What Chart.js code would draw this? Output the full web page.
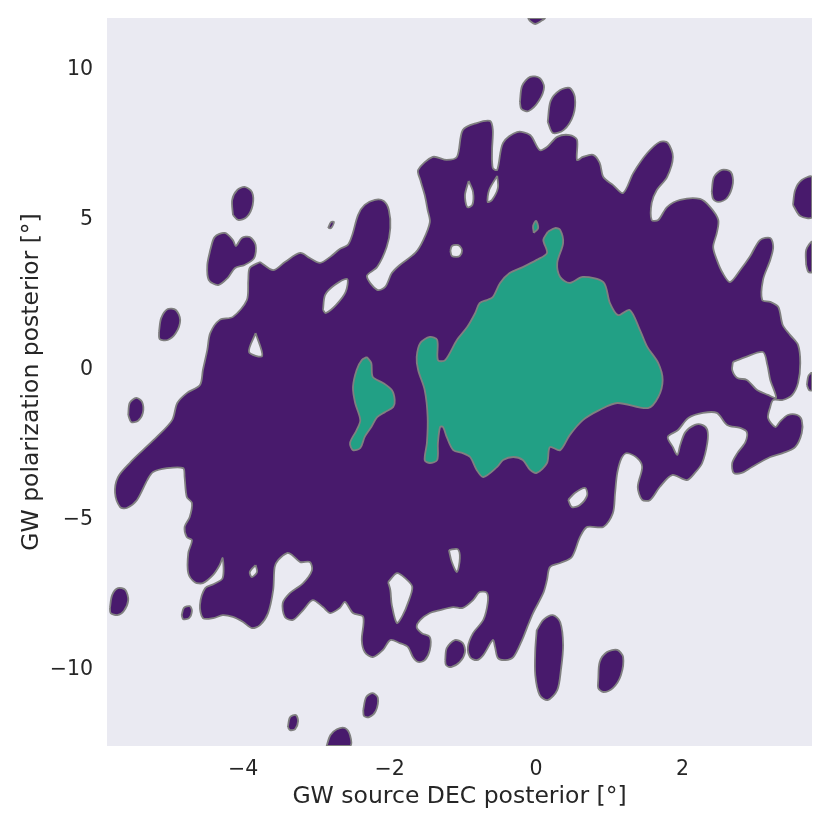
<!DOCTYPE html>
<html>
<head>
<meta charset="utf-8">
<script src="https://cdn.jsdelivr.net/npm/chart.js@4/dist/chart.umd.min.js"></script>
<style>
  html, body { margin: 0; padding: 0; background: #fff; }
  #wrap { width: 830px; height: 830px; }
</style>
</head>
<body>
<div id="wrap"><canvas id="contourChart" width="830" height="830"></canvas></div>
<script>
// axis ticks and limits
const xTicks = [-4, -2, 0, 2];
const yTicks = [-10, -5, 0, 5, 10];
const xRange = [-5.86, 3.77];
const yRange = [-12.53, 11.73];

// outer contour level (purple), main region
const mainBody = [
  [-3.77,3.60],[-3.91,3.40],[-3.93,3.00],[-3.95,2.33],[-4.14,1.77],[-4.32,1.67],[-4.45,1.23],[-4.49,0.67],
  [-4.55,0],[-4.59,-0.5],[-4.77,-0.77],[-4.90,-1.10],[-4.97,-1.67],[-5.18,-2.23],[-5.37,-2.67],[-5.55,-3.10],
  [-5.71,-3.57],[-5.75,-4.10],[-5.68,-4.57],[-5.59,-4.60],[-5.45,-4.33],[-5.31,-3.67],[-5.23,-3.40],[-5.04,-3.27],
  [-4.82,-3.27],[-4.80,-3.57],[-4.77,-4.23],[-4.70,-4.43],[-4.73,-4.90],[-4.80,-5.23],[-4.77,-5.57],[-4.70,-5.67],
  [-4.75,-6.10],[-4.75,-6.77],[-4.66,-7.07],[-4.55,-7.10],[-4.41,-6.83],[-4.32,-6.50],[-4.28,-6.27],[-4.28,-6.93],
  [-4.40,-7.13],[-4.52,-7.27],[-4.59,-7.83],[-4.55,-8.27],[-4.41,-8.27],[-4.28,-8.17],[-4.14,-8.23],[-4.00,-8.40],
  [-3.88,-8.60],[-3.77,-8.50],[-3.66,-8.10],[-3.59,-7.33],[-3.57,-6.57],[-3.52,-6.33],[-3.40,-6.10],[-3.33,-6.17],
  [-3.22,-6.40],[-3.09,-6.40],[-3.06,-6.67],[-3.18,-7.10],[-3.36,-7.43],[-3.46,-7.77],[-3.43,-8.23],[-3.32,-8.33],
  [-3.18,-8.00],[-3.05,-7.67],[-2.91,-7.90],[-2.81,-8.10],[-2.68,-7.93],[-2.61,-7.73],[-2.50,-8.10],[-2.36,-8.23],
  [-2.38,-9.00],[-2.34,-9.40],[-2.23,-9.57],[-2.09,-9.33],[-1.99,-9.00],[-1.86,-9.10],[-1.75,-9.23],[-1.68,-9.57],
  [-1.61,-9.73],[-1.52,-9.67],[-1.45,-9.33],[-1.45,-8.90],[-1.56,-8.77],[-1.63,-8.57],[-1.58,-8.33],[-1.45,-8.10],
  [-1.31,-8.00],[-1.13,-7.90],[-1.00,-7.93],[-0.86,-7.67],[-0.77,-7.40],[-0.67,-7.43],[-0.66,-7.77],[-0.72,-8.33],
  [-0.86,-8.77],[-0.93,-9.23],[-0.90,-9.57],[-0.81,-9.67],[-0.72,-9.50],[-0.59,-9.00],[-0.56,-9.23],[-0.52,-9.60],
  [-0.42,-9.67],[-0.31,-9.57],[-0.19,-9.00],[-0.12,-8.57],[-0.04,-8.10],[0.10,-7.43],[0.15,-7.00],[0.19,-6.57],
  [0.33,-6.43],[0.49,-6.23],[0.60,-5.57],[0.70,-5.23],[0.92,-5.23],[1.05,-4.77],[1.08,-4.10],[1.11,-3.43],
  [1.17,-2.93],[1.24,-2.77],[1.38,-2.93],[1.45,-3.23],[1.39,-3.90],[1.45,-4.33],[1.56,-4.33],[1.69,-3.90],
  [1.86,-3.50],[2.06,-3.67],[2.17,-3.43],[2.27,-3.10],[2.34,-2.43],[2.34,-2.00],[2.27,-1.83],[2.17,-1.83],
  [2.04,-2.07],[1.97,-2.50],[1.93,-2.83],[1.87,-2.57],[1.80,-2.23],[1.94,-2.00],[2.08,-1.60],[2.28,-1.43],
  [2.47,-1.43],[2.61,-1.83],[2.79,-1.93],[2.88,-2.07],[2.86,-2.40],[2.75,-2.77],[2.68,-3.10],[2.70,-3.43],
  [2.81,-3.43],[2.95,-3.23],[3.20,-2.90],[3.37,-2.77],[3.54,-2.57],[3.63,-2.10],[3.63,-1.67],[3.57,-1.50],
  [3.44,-1.50],[3.33,-1.73],[3.27,-1.90],[3.17,-1.60],[3.20,-1.23],[3.24,-1.00],[3.37,-1.00],[3.50,-0.83],
  [3.58,-0.43],[3.61,0.23],[3.58,0.83],[3.47,1.17],[3.37,1.50],[3.31,2.10],[3.20,2.27],[3.09,2.33],
  [3.10,3.00],[3.20,3.67],[3.24,4.10],[3.20,4.40],[3.06,4.33],[2.92,3.77],[2.79,3.33],[2.65,2.93],
  [2.55,3.23],[2.47,3.67],[2.42,4.10],[2.47,4.57],[2.49,5.00],[2.38,5.43],[2.24,5.70],[1.97,5.67],
  [1.79,5.43],[1.67,5.00],[1.58,5.00],[1.58,5.57],[1.65,6.00],[1.79,6.43],[1.87,7.10],[1.80,7.57],
  [1.69,7.60],[1.52,7.23],[1.33,6.57],[1.19,5.90],[1.05,6.17],[0.92,6.43],[0.87,6.90],[0.78,7.17],
  [0.64,7.10],[0.56,7.00],[0.56,7.67],[0.46,7.83],[0.29,7.77],[0.15,7.43],[0.05,7.33],[-0.08,7.83],
  [-0.26,7.93],[-0.45,7.57],[-0.53,6.67],[-0.59,6.73],[-0.60,7.33],[-0.59,8.00],[-0.63,8.30],[-0.81,8.23],
  [-1.00,8.00],[-1.08,7.10],[-1.22,7.00],[-1.41,7.10],[-1.61,6.67],[-1.58,6.33],[-1.52,5.83],[-1.48,5.33],
  [-1.45,4.93],[-1.54,4.33],[-1.65,3.90],[-1.86,3.50],[-1.97,3.23],[-2.06,2.77],[-2.17,2.67],[-2.31,3.13],
  [-2.17,3.43],[-2.04,4.10],[-1.99,4.73],[-2.01,5.33],[-2.08,5.63],[-2.20,5.67],[-2.34,5.50],[-2.43,5.17],
  [-2.51,4.50],[-2.57,4.17],[-2.68,4.03],[-2.81,3.77],[-2.95,3.57],[-3.09,3.73],[-3.22,3.90],[-3.43,3.60],
  [-3.59,3.33]
];

// outer contour level, separate islands
const islands = [
  [[-4.14,5.17],[-4.15,5.67],[-4.08,6.00],[-3.98,6.10],[-3.88,5.93],[-3.87,5.50],[-3.95,5.10],[-4.07,5.00]],
  [[-4.45,4.00],[-4.39,4.43],[-4.25,4.57],[-4.14,4.33],[-4.10,4.13],[-4.02,4.40],[-3.91,4.43],[-3.83,4.17],
   [-3.85,3.73],[-3.98,3.50],[-4.11,3.40],[-4.21,3.07],[-4.34,2.83],[-4.47,3.00],[-4.49,3.50]],
  [[-5.15,1.27],[-5.12,1.73],[-5.03,2.03],[-4.92,2.00],[-4.86,1.67],[-4.92,1.23],[-5.03,1.00],[-5.14,1.03]],
  [[-5.57,-1.50],[-5.55,-1.10],[-5.46,-0.93],[-5.38,-1.07],[-5.37,-1.43],[-5.44,-1.70],[-5.53,-1.73]],
  [[-5.82,-7.93],[-5.79,-7.50],[-5.71,-7.27],[-5.61,-7.33],[-5.57,-7.67],[-5.63,-8.03],[-5.72,-8.17],[-5.81,-8.10]],
  [[-4.84,-8.17],[-4.81,-7.93],[-4.73,-7.87],[-4.70,-8.03],[-4.74,-8.27],[-4.82,-8.30]],
  [[-3.39,-11.90],[-3.36,-11.57],[-3.28,-11.50],[-3.25,-11.70],[-3.29,-11.97],[-3.36,-12.00]],
  [[-2.86,-12.53],[-2.81,-12.17],[-2.72,-11.97],[-2.61,-11.93],[-2.54,-12.17],[-2.54,-12.53]],
  [[-2.36,-11.33],[-2.32,-10.90],[-2.23,-10.77],[-2.16,-10.93],[-2.19,-11.37],[-2.28,-11.57],[-2.35,-11.53]],
  [[-1.24,-9.67],[-1.22,-9.27],[-1.11,-9.00],[-1.00,-9.10],[-0.97,-9.40],[-1.04,-9.73],[-1.16,-9.90],[-1.23,-9.83]],
  [[0.01,-8.67],[0.10,-8.33],[0.23,-8.17],[0.33,-8.40],[0.37,-9.17],[0.34,-10.00],[0.29,-10.67],[0.16,-11.00],
   [0.05,-10.83],[-0.01,-10.17],[-0.01,-9.33]],
  [[0.85,-10.33],[0.87,-9.73],[0.97,-9.40],[1.11,-9.33],[1.19,-9.57],[1.16,-10.17],[1.05,-10.60],[0.92,-10.73],[0.85,-10.60]],
  [[-0.11,11.73],[0.12,11.73],[0.07,11.63],[-0.01,11.53],[-0.08,11.63]],
  [[-0.22,8.93],[-0.19,9.47],[-0.08,9.77],[0.05,9.73],[0.11,9.43],[0.04,8.97],[-0.10,8.63],[-0.20,8.70]],
  [[0.16,8.27],[0.20,8.97],[0.33,9.33],[0.46,9.40],[0.53,9.10],[0.51,8.50],[0.38,8.00],[0.23,7.90]],
  [[2.40,5.93],[2.43,6.43],[2.54,6.67],[2.66,6.60],[2.69,6.23],[2.61,5.73],[2.49,5.60],[2.42,5.70]],
  [[3.51,5.50],[3.54,6.00],[3.63,6.33],[3.77,6.43],[3.77,5.10],[3.61,5.13]],
  [[3.69,3.50],[3.69,4.00],[3.77,4.27],[3.77,3.27],[3.72,3.27]],
  [[3.70,-0.50],[3.72,-0.20],[3.77,-0.10],[3.77,-0.67],[3.73,-0.67]],
  [[-2.84,4.73],[-2.80,4.93],[-2.76,4.93],[-2.80,4.73]]
];

// gaps inside the outer level
const holes = [
  [[-2.91,2.00],[-2.88,2.50],[-2.75,2.83],[-2.58,3.03],[-2.60,2.60],[-2.73,2.17],[-2.87,1.90]],
  [[-3.83,1.23],[-3.92,0.60],[-3.74,0.47]],
  [[-0.92,6.30],[-0.86,5.93],[-0.87,5.50],[-0.94,5.43],[-0.97,5.83]],
  [[-0.53,6.47],[-0.52,6.07],[-0.60,5.67],[-0.66,5.60],[-0.64,6.00]],
  [[-1.17,3.97],[-1.15,4.13],[-1.09,4.17],[-1.04,4.13],[-1.01,3.97],[-1.04,3.80],[-1.09,3.77],[-1.15,3.80]],
  [[-3.83,-6.50],[-3.81,-6.73],[-3.88,-6.90],[-3.91,-6.73]],
  [[-2.02,-7.07],[-1.90,-6.77],[-1.79,-6.93],[-1.69,-7.23],[-1.75,-7.77],[-1.82,-8.17],[-1.90,-8.43],[-1.97,-7.83],[-1.99,-7.33]],
  [[-1.19,-6.00],[-1.07,-5.97],[-1.04,-6.27],[-1.08,-6.73],[-1.15,-6.40]],
  [[0.44,-4.33],[0.53,-4.10],[0.67,-3.93],[0.70,-4.17],[0.60,-4.50],[0.49,-4.57]],
  [[2.69,0.27],[2.86,0.43],[3.10,0.60],[3.16,0.17],[3.20,-0.33],[3.28,-0.93],[3.17,-0.83],[3.02,-0.67],[2.88,-0.33],[2.75,-0.27],[2.68,0]]
];

// inner contour level (teal)
const innerCore = [
  [0.16,4.60],[0.26,4.73],[0.33,4.67],[0.37,4.23],[0.29,3.57],[0.33,3.10],[0.46,2.90],[0.64,3.10],
  [0.92,2.93],[1.01,2.23],[1.12,1.83],[1.28,2.00],[1.42,1.33],[1.52,0.77],[1.67,0.23],[1.73,-0.33],
  [1.67,-0.90],[1.53,-1.27],[1.11,-1.10],[0.87,-1.33],[0.64,-1.67],[0.46,-2.17],[0.33,-2.67],[0.19,-2.57],
  [0.15,-3.10],[0.01,-3.43],[-0.08,-3.33],[-0.18,-3.00],[-0.31,-2.90],[-0.45,-3.00],[-0.53,-3.23],[-0.72,-3.57],
  [-0.81,-3.33],[-0.90,-2.90],[-1.00,-2.77],[-1.13,-2.67],[-1.22,-2.23],[-1.27,-1.90],[-1.31,-1.90],[-1.34,-2.43],
  [-1.35,-3.00],[-1.45,-3.10],[-1.52,-3.00],[-1.49,-2.43],[-1.48,-1.57],[-1.52,-0.67],[-1.61,0],[-1.63,0.43],
  [-1.58,0.90],[-1.45,1.10],[-1.35,1.00],[-1.34,0.33],[-1.24,0.33],[-1.08,1.00],[-0.94,1.43],[-0.83,1.90],
  [-0.77,2.23],[-0.67,2.33],[-0.59,2.43],[-0.49,2.90],[-0.36,3.23],[-0.18,3.43],[0.01,3.67],[0.15,3.90],
  [0.10,4.33]
];
const innerSide = [
  [-2.31,0.43],[-2.25,0.23],[-2.23,-0.23],[-2.09,-0.43],[-1.97,-0.67],[-1.93,-1.00],[-1.95,-1.23],[-2.06,-1.40],
  [-2.17,-1.57],[-2.25,-1.90],[-2.34,-2.23],[-2.40,-2.60],[-2.50,-2.67],[-2.54,-2.43],[-2.45,-2.00],[-2.40,-1.67],
  [-2.47,-1.10],[-2.50,-0.57],[-2.45,0],[-2.38,0.33]
];
const innerDot = [[-0.03,4.57],[-0.04,4.80],[0,4.97],[0.03,4.73]];

const outerColor = "#481a6c";
const innerColor = "#22a085";
const bgColor = "#eaeaf2";
const edgeColor = "#808080";

// one closed contour as a filled line dataset
function contour(points, color, order) {
    let data = points.map(p => ({ x: p[0], y: p[1] }));
    data.push(data[0]);
    return {
        data: data,
        fill: "shape",
        backgroundColor: color,
        borderColor: edgeColor,
        borderWidth: 1.8,
        pointRadius: 0,
        tension: 0.3,
        order: order,
        clip: 0
    };
}

let datasets = [contour(mainBody, outerColor, 3)];
islands.forEach(s => datasets.push(contour(s, outerColor, 3)));
holes.forEach(s => datasets.push(contour(s, bgColor, 2)));
[innerCore, innerSide, innerDot].forEach(s => datasets.push(contour(s, innerColor, 1)));

// axes background
const plotBackground = {
    id: "plotBackground",
    beforeDraw(chart) {
        let { ctx, chartArea } = chart;
        ctx.save();
        ctx.fillStyle = "#ffffff";
        ctx.fillRect(0, 0, chart.width, chart.height);
        ctx.fillStyle = bgColor;
        ctx.fillRect(chartArea.left, chartArea.top, chartArea.right - chartArea.left, chartArea.bottom - chartArea.top);
        ctx.restore();
    }
};

const tickFont = { family: "DejaVu Sans", size: 20.5 };
const titleFont = { family: "DejaVu Sans", size: 23.5 };
const fmt = v => v < 0 ? "\u2212" + Math.abs(v) : String(v);

new Chart(document.getElementById("contourChart"), {
    type: "line",
    data: { datasets: datasets },
    options: {
        responsive: false,
        animation: false,
        layout: { padding: { left: 0, right: 18, top: 18, bottom: 0 } },
        plugins: { legend: { display: false }, tooltip: { enabled: false } },
        scales: {
            x: {
                type: "linear",
                min: xRange[0],
                max: xRange[1],
                grid: { display: false, drawTicks: false },
                border: { display: false },
                afterBuildTicks: s => { s.ticks = xTicks.map(v => ({ value: v })); },
                afterFit: s => { s.height = 84; s.paddingLeft = 0; s.paddingRight = 0; },
                ticks: { font: tickFont, color: "#262626", padding: 11, maxRotation: 0, callback: fmt },
                title: { display: true, text: "GW source DEC posterior [°]", font: titleFont, color: "#262626", padding: { top: 0, bottom: 19 } }
            },
            y: {
                type: "linear",
                min: yRange[0],
                max: yRange[1],
                grid: { display: false, drawTicks: false },
                border: { display: false },
                afterBuildTicks: s => { s.ticks = yTicks.map(v => ({ value: v })); },
                afterFit: s => { s.width = 107; s.paddingTop = 0; s.paddingBottom = 0; },
                ticks: { font: tickFont, color: "#262626", padding: 14, callback: fmt },
                title: { display: true, text: "GW polarization posterior [°]", font: titleFont, color: "#262626", padding: { top: 18, bottom: 0 } }
            }
        }
    },
    plugins: [plotBackground]
});
</script>
</body>
</html>
